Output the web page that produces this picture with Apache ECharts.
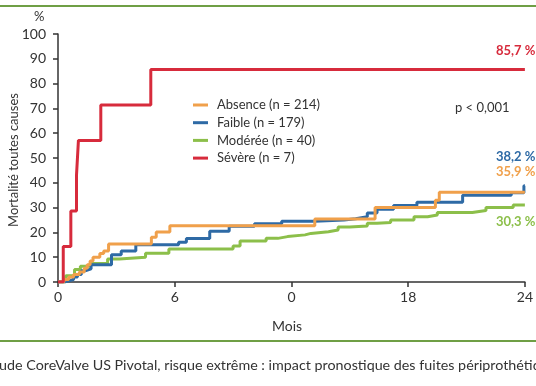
<!DOCTYPE html>
<html><head><meta charset="utf-8">
<script src="https://cdn.jsdelivr.net/npm/echarts@6/dist/echarts.min.js"></script>
<style>html,body{margin:0;padding:0;background:#fff}#c{width:536px;height:386px}</style>
</head><body><div id="c"></div>
<script>
const xTickLabels = ['0','6','0','18','24'];
const seriesNames = ['Absence (n = 214)','Faible (n = 179)','Modérée (n = 40)','Sévère (n = 7)'];
const absence = [[0,0],[0.3,1],[0.55,2],[0.8,3],[1.1,4],[1.35,5.5],[1.5,7],[1.65,8.5],[1.8,10],[2.15,11.5],[2.35,12.5],[2.6,15.3],[4.8,18],[5.05,20.2],[5.75,22.7],[13.2,25.4],[16.3,30],[19.4,33],[19.6,36.2],[24,36.2]];
const faible = [[0,0],[0.3,0.5],[0.55,1],[0.8,2],[1.0,3],[1.2,4.5],[1.4,5.3],[1.7,7],[2.75,11],[3.25,12.5],[4.0,15],[6.2,16],[6.6,17.5],[7.8,20.5],[8.8,22.5],[10.1,23.5],[11.5,24.5],[13.2,25],[14.7,25.5],[15.3,26.3],[15.9,27.8],[16.4,29.3],[17.25,30.8],[18.45,32.2],[20.8,35],[23.3,36],[23.95,38.8],[24,38.8]];
const moderee = [[0,0],[0.4,2.5],[0.85,5],[1.15,6.4],[1.65,7.5],[2.55,9.3],[3.15,10],[4.5,11.6],[5.7,13.3],[9.0,14.5],[9.36,16.5],[10.7,17.6],[11.3,18.3],[11.8,19],[12.7,19.6],[13.0,20.3],[13.9,21],[14.4,22.2],[15.0,22.6],[15.9,23.7],[16.4,24],[17.1,25],[18.3,26.3],[19.0,27],[19.5,28],[21.3,28.8],[22.0,30],[23.4,31],[24,31]];
const severe = [[0,0],[0.27,14.3],[0.66,28.6],[0.95,42.9],[1.05,57.1],[2.2,71.4],[4.77,85.7],[24,85.7]];
const endLabels = ['35,9 %','38,2 %','30,3 %','85,7 %'];

const colors = ['#f0a04b','#2e6aa5','#8cbf4a','#d72b3c'];
const FONT = 'Lato';
const chart = echarts.init(document.getElementById('c'));
function ser(name, data, color, z){
  return {name, type:'line', step:'end', data, showSymbol:false, z,
    lineStyle:{color, width:3}, itemStyle:{color}};
}
chart.setOption({
  animation:false,
  textStyle:{fontFamily:FONT},
  grid:{left:58, right:7, top:34, bottom:104},
  xAxis:{type:'value', min:0, max:24, interval:6,
    axisLine:{lineStyle:{color:'#333', width:1.5}},
    axisTick:{show:true, length:5, lineStyle:{color:'#333', width:1.5}},
    splitLine:{show:false},
    axisLabel:{color:'#333', fontSize:14, margin:8, fontFamily:FONT,
      formatter:v=>xTickLabels[Math.round(v/6)]}},
  yAxis:{type:'value', min:0, max:100, interval:10,
    axisLine:{show:true, lineStyle:{color:'#333', width:1.5}},
    axisTick:{show:true, length:5, lineStyle:{color:'#333', width:1.5}},
    splitLine:{show:false},
    axisLabel:{color:'#333', fontSize:14, margin:12, fontFamily:FONT}},
  legend:{orient:'vertical', left:193, top:98, padding:0, itemWidth:15, itemHeight:3, itemGap:3.7,
    icon:'rect', data:seriesNames,
    textStyle:{color:'#333', fontSize:13, fontFamily:FONT, lineHeight:14, padding:[0,0,0,4]}},
  series:[
    ser(seriesNames[2], moderee, colors[2], 2),
    ser(seriesNames[1], faible, colors[1], 3),
    ser(seriesNames[0], absence, colors[0], 4),
    ser(seriesNames[3], severe, colors[3], 5)
  ],
  graphic:[
    {type:'rect', shape:{x:0,y:5,width:536,height:2}, style:{fill:'#6f9f45'}},
    {type:'rect', shape:{x:0,y:340,width:536,height:2}, style:{fill:'#6f9f45'}},
    {type:'text', left:34, top:10, style:{text:'%', fill:'#333', font:'13px '+FONT}},
    {type:'text', x:14, y:160, rotation:Math.PI/2, style:{text:'Mortalité toutes causes', fill:'#333', font:'13px '+FONT, align:'center', verticalAlign:'middle'}},
    {type:'text', x:287, y:326, style:{text:'Mois', fill:'#333', font:'14px '+FONT, align:'center', verticalAlign:'middle'}},
    {type:'text', x:-14, y:365, style:{text:'Étude CoreValve US Pivotal, risque extrême : impact pronostique des fuites périprothétiques', fill:'#333', font:'14.3px '+FONT, verticalAlign:'middle'}},
    {type:'text', x:455, y:108, style:{text:'p < 0,001', fill:'#333', font:'13px '+FONT, verticalAlign:'middle'}},
    {type:'text', x:496, y:51, style:{text:endLabels[3], fill:colors[3], font:'bold 13px '+FONT, verticalAlign:'middle'}},
    {type:'text', x:496, y:157, style:{text:endLabels[1], fill:colors[1], font:'bold 13px '+FONT, verticalAlign:'middle'}},
    {type:'text', x:496, y:172, style:{text:endLabels[0], fill:colors[0], font:'bold 13px '+FONT, verticalAlign:'middle'}},
    {type:'text', x:496, y:222, style:{text:endLabels[2], fill:colors[2], font:'bold 13px '+FONT, verticalAlign:'middle'}}
  ]
});
</script></body></html>
